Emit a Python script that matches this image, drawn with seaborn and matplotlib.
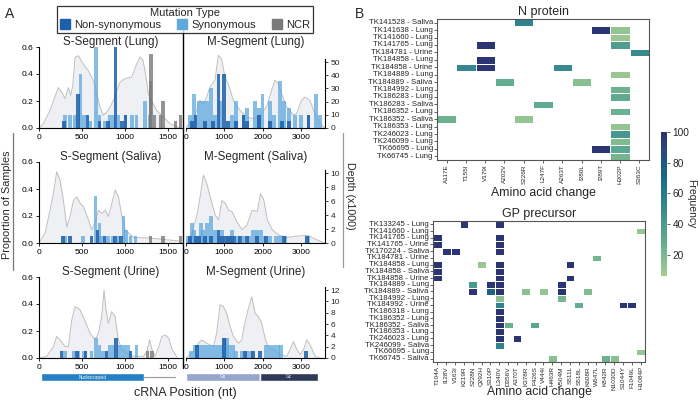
import numpy as np
import pandas as pd
import seaborn as sns
import matplotlib.pyplot as plt
from matplotlib.patches import Patch
from matplotlib.lines import Line2D

# ---------------- Panel A data ----------------
# read depth coverage (x1000) per segment / tissue
s_lung_cov_x = [0, 50, 128, 224, 263, 302, 340, 367, 391, 418, 456, 514, 572, 611, 650, 708, 746, 804, 863,
                940, 998, 1075, 1133, 1172, 1203, 1230, 1269, 1307, 1365, 1443, 1520, 1636]
s_lung_cov_y = [0, 3.3, 13.4, 30.6, 27.3, 22.2, 30.6, 24.7, 32.1, 53.5, 54.8, 48.5, 43.4, 38.4, 32.1, 15.7, 9.6,
                13.4, 21, 34.8, 37.4, 38.6, 48.7, 53.8, 51.8, 43.4, 25.8, 20.7, 13.4, 8.3, 3.3, 0]
m_lung_cov_x = [0, 17, 148, 278, 365, 452, 539, 626, 757, 843, 930, 1017, 1104, 1235, 1409, 1583, 1757, 1930,
                2104, 2235, 2322, 2409, 2496, 2626, 2713, 2800, 2887, 3017, 3104, 3235, 3365, 3496, 3626]
m_lung_cov_y = [0, 0.8, 5.8, 13.4, 21, 18.4, 23.5, 31.1, 36.1, 55.1, 52.5, 38.6, 33.6, 21, 13.4, 8.3, 7.1, 9.6,
                15.9, 28.5, 36.1, 33.6, 26, 15.9, 13.4, 9.6, 10.9, 21, 23.5, 21, 10.9, 3.3, 0]
s_sal_cov_x = [0, 70, 128, 167, 205, 244, 283, 322, 360, 400, 438, 477, 515, 574, 612, 651, 690, 729, 767, 806,
               845, 884, 922, 961, 1000, 1097, 1291, 1446, 1620]
s_sal_cov_y = [0, 1.4, 4.7, 7.1, 10.2, 9, 6.1, 2.3, 3.8, 6.1, 6.6, 5.7, 5.2, 3.3, 1.9, 3, 4.7, 4.2, 4.7, 3.8,
               5.7, 7.6, 6.6, 3.8, 1.9, 0.8, 0.7, 0.5, 0.3]
m_sal_cov_x = [0, 18, 150, 280, 368, 456, 544, 632, 763, 851, 939, 1026, 1114, 1202, 1333, 1465, 1596, 1728,
               1860, 1947, 2035, 2123, 2254, 2430, 2650, 2912, 3175, 3439, 3614]
m_sal_cov_y = [0, 0.2, 1.4, 3.8, 6.6, 9.7, 8.5, 6.6, 4, 3.3, 6.1, 5.7, 4.7, 4.5, 3, 1.9, 2.6, 4.7,
               4.5, 7.1, 6.1, 3.3, 1.9, 1.1, 0.8, 1, 1.1, 0.4, 0]
s_uri_cov_x = [0, 89, 167, 205, 244, 302, 341, 380, 418, 476, 530, 592, 650, 689, 727, 754, 777, 804, 843, 882,
               920, 960, 1019, 1097, 1213, 1252, 1283, 1310, 1349, 1388, 1426, 1465, 1504, 1543, 1600]
s_uri_cov_y = [0, 0.3, 2, 3.8, 3.2, 2, 2, 6.7, 9.1, 8.5, 6.7, 4.4, 3.2, 4.4, 7.3, 12, 8.5, 6.1, 8.2, 7.3,
               3.2, 1.5, 0.9, 0.3, 0.3, 1.2, 3.2, 1.5, 0.3, 2, 3.8, 4.1, 3.5, 1.5, 0.2]
m_uri_cov_x = [0, 105, 235, 322, 410, 540, 715, 802, 889, 976, 1064, 1151, 1238, 1369, 1456, 1543, 1630, 1717,
               1805, 1892, 1979, 2066, 2153, 2284, 2458, 2633, 2807, 2894, 2982, 3069, 3156, 3243, 3374, 3505]
m_uri_cov_y = [0, 0.6, 1.5, 2.6, 3.2, 2.6, 2, 4.4, 9.4, 9.1, 7.9, 5.6, 3.8, 2.6, 3.2, 6.4, 8.8, 10.8,
               7.9, 7.3, 6.1, 3.5, 1.8, 1.5, 0.6, 0.3, 2.9, 1.5, 0.6, 1.5, 3.2, 2.3, 0.3, 0]

# mutation bars: position (nt) and proportion of samples
s_lung_ns_x = [290, 450, 560, 700, 800, 890, 960, 1000]
s_lung_ns_y = [0.05, 0.25, 0.1, 0.05, 0.05, 0.6, 0.05, 0.1]
s_lung_syn_x = [300, 360, 420, 480, 520, 600, 660, 700, 760, 820, 860, 920, 1000, 1080, 1130, 1230, 1280]
s_lung_syn_y = [0.1, 0.1, 0.1, 0.4, 0.1, 0.05, 0.6, 0.1, 0.05, 0.1, 0.1, 0.1, 0.1, 0.1, 0.1, 0.2, 0.1]
s_lung_ncr_x = [1290, 1300, 1340, 1410, 1440, 1580, 1640]
s_lung_ncr_y = [0.35, 0.55, 0.1, 0.1, 0.2, 0.05, 0.1]

m_lung_ns_x = [150, 250, 500, 700, 850, 1000, 1100, 1300, 1500, 1600, 1900, 2200, 2500, 2700, 3200]
m_lung_ns_y = [0.05, 0.1, 0.05, 0.05, 0.4, 0.4, 0.05, 0.05, 0.1, 0.05, 0.1, 0.05, 0.05, 0.05, 0.1]
m_lung_syn_x = [100, 200, 350, 450, 550, 650, 750, 900, 1200, 1300, 1500, 1600, 1800, 1900, 2000, 2200, 2300,
                2450, 2550, 2700, 2850, 3000, 3200, 3400, 3500]
m_lung_syn_y = [0.1, 0.25, 0.2, 0.2, 0.2, 0.3, 0.1, 0.2, 0.1, 0.2, 0.1, 0.15, 0.2, 0.15, 0.25, 0.2, 0.1,
                0.35, 0.2, 0.15, 0.1, 0.1, 0.1, 0.25, 0.1]

s_sal_ns_x = [280, 360, 610, 680, 760, 880, 950]
s_sal_ns_y = [0.05, 0.05, 0.05, 0.1, 0.05, 0.05, 0.05]
s_sal_syn_x = [300, 510, 655, 700, 720, 800, 850, 920, 980, 1010, 1060, 1120]
s_sal_syn_y = [0.05, 0.05, 0.35, 0.15, 0.05, 0.05, 0.05, 0.05, 0.2, 0.1, 0.05, 0.05]
s_sal_ncr_x = [1290, 1440, 1640]
s_sal_ncr_y = [0.05, 0.05, 0.05]

m_sal_ns_x = [100, 250, 350, 500, 650, 850, 950, 1050, 1150, 1250, 1400, 1600, 1850, 2100, 2550, 3150]
m_sal_ns_y = [0.05, 0.05, 0.05, 0.05, 0.05, 0.1, 0.05, 0.05, 0.05, 0.05, 0.05, 0.05, 0.05, 0.05, 0.05, 0.05]
m_sal_syn_x = [50, 150, 200, 300, 400, 450, 550, 650, 750, 850, 950, 1100, 1200, 1350, 1500, 1650, 1750, 1850,
               1950, 2050, 2200, 2350, 2450, 2600, 3200]
m_sal_syn_y = [0.05, 0.15, 0.1, 0.05, 0.15, 0.1, 0.15, 0.2, 0.1, 0.05, 0.1, 0.05, 0.1, 0.05, 0.05, 0.05, 0.1, 0.1,
               0.1, 0.05, 0.05, 0.05, 0.05, 0.05, 0.05]

s_uri_ns_x = [260, 440, 540, 780, 895, 1060]
s_uri_ns_y = [0.05, 0.05, 0.05, 0.05, 0.15, 0.05]
s_uri_syn_x = [300, 400, 460, 520, 610, 660, 700, 740, 820, 860, 920, 960, 1000, 1040, 1130]
s_uri_syn_y = [0.05, 0.05, 0.05, 0.05, 0.05, 0.15, 0.1, 0.05, 0.1, 0.1, 0.1, 0.1, 0.1, 0.1, 0.1]
s_uri_ncr_x = [1260, 1310]
s_uri_ncr_y = [0.05, 0.05]

m_uri_ns_x = [280, 1000, 1540, 1760, 1935, 3140]
m_uri_ns_y = [0.1, 0.15, 0.05, 0.05, 0.05, 0.05]
m_uri_syn_x = [120, 220, 320, 420, 520, 620, 720, 820, 920, 1020, 1080, 1120, 1220, 1310, 1450, 1600, 1700,
               2100, 2200, 2300, 2400, 2480]
m_uri_syn_y = [0.05, 0.1, 0.1, 0.1, 0.1, 0.1, 0.1, 0.1, 0.1, 0.15, 0.15, 0.1, 0.1, 0.05, 0.05, 0.05, 0.05,
               0.1, 0.1, 0.1, 0.1, 0.1]

tissues = ["Lung", "Saliva", "Urine"]
depth_ticks = [[0, 10, 20, 30, 40, 50], [0, 2, 4, 6, 8, 10], [0, 2, 4, 6, 8, 10, 12]]
depth_top = [61.4, 11.6, 14.3]

gene_names = ["Nucleocapsid", "Gn", "Gc"]
gene_start = [23, 0, 1930]
gene_end = [1218, 1930, 3440]

# ---------------- Panel B data ----------------
n_rows = ["TK141528 - Saliva", "TK141638 - Lung", "TK141660 - Lung", "TK141765 - Lung", "TK184781 - Urine",
          "TK184858 - Lung", "TK184858 - Urine", "TK184889 - Lung", "TK184889 - Saliva", "TK184992 - Lung",
          "TK186283 - Lung", "TK186283 - Saliva", "TK186352 - Lung", "TK186352 - Saliva", "TK186353 - Lung",
          "TK246023 - Lung", "TK246099 - Lung", "TK66695 - Lung", "TK66745 - Lung"]
n_cols = ["A117E", "T155I", "V179I", "A202V", "S226R", "L247F", "A263T", "I280L", "I289T", "H302P", "S363C"]
n_cells = [(0, "S226R", 55), (1, "I289T", 98), (1, "H302P", 12), (2, "H302P", 10), (3, "V179I", 98),
           (3, "H302P", 38), (4, "S363C", 50), (5, "V179I", 98), (6, "T155I", 52), (6, "V179I", 98),
           (6, "A263T", 50), (7, "H302P", 10), (8, "A202V", 28), (8, "I280L", 15), (9, "H302P", 25),
           (10, "H302P", 30), (11, "L247F", 30), (12, "H302P", 25), (13, "A117E", 25), (13, "S226R", 12),
           (14, "H302P", 12), (15, "H302P", 42), (16, "H302P", 18), (17, "I289T", 98), (17, "H302P", 32),
           (18, "H302P", 22)]

gp_rows = ["TK133245 - Lung", "TK141660 - Lung", "TK141765 - Lung", "TK141765 - Urine", "TK170224 - Saliva",
           "TK184781 - Urine", "TK184858 - Lung", "TK184858 - Saliva", "TK184858 - Urine", "TK184889 - Lung",
           "TK184889 - Saliva", "TK184992 - Lung", "TK184992 - Urine", "TK186318 - Lung", "TK186352 - Lung",
           "TK186352 - Saliva", "TK186353 - Lung", "TK246023 - Lung", "TK246099 - Saliva", "TK66695 - Lung",
           "TK66745 - Saliva"]
gp_cols = ["T104A", "I128V", "V163I", "K219R", "S228N", "Q292H", "S310P", "L340V", "D356V", "A370T", "K378R",
           "F426S", "V444I", "H463R", "V504M", "S511L", "S518L", "K608R", "W647L", "K842R", "N1030D", "S1044Y",
           "F1049L", "H1084P"]
gp_cells = [(0, "K219R", 98), (0, "L340V", 98), (1, "H1084P", 12), (2, "T104A", 98), (2, "L340V", 98),
            (3, "T104A", 98), (3, "L340V", 98), (4, "I128V", 98), (4, "V163I", 98), (4, "L340V", 98),
            (5, "W647L", 22), (6, "T104A", 98), (6, "Q292H", 10), (6, "L340V", 98), (6, "S511L", 98),
            (7, "T104A", 98), (7, "L340V", 98), (8, "T104A", 98), (8, "L340V", 98), (8, "S511L", 98),
            (9, "S228N", 40), (9, "S310P", 98), (9, "L340V", 98), (9, "V504M", 98),
            (10, "S228N", 98), (10, "S310P", 75), (10, "L340V", 98), (10, "K378R", 15), (10, "V444I", 12),
            (10, "V504M", 98), (10, "K608R", 18), (11, "L340V", 15), (11, "V504M", 22),
            (12, "L340V", 55), (12, "S518L", 28), (12, "S1044Y", 98), (12, "F1049L", 98),
            (13, "L340V", 98), (14, "L340V", 98), (15, "L340V", 98), (15, "D356V", 25), (15, "F426S", 32),
            (16, "L340V", 98), (17, "L340V", 98), (17, "A370T", 98), (18, "L340V", 55), (19, "H1084P", 12),
            (20, "H463R", 15), (20, "K842R", 25), (20, "N1030D", 15)]

# ---------------- style ----------------
sns.set_theme(style="ticks")
plt.rcParams["font.family"] = ["Liberation Sans", "DejaVu Sans"]
plt.rcParams["axes.linewidth"] = 0.8

C_NS = "#1c5fab"
C_SYN = "#5fa8de"
C_NCR = "#7a7a7a"

W, H = 700, 401
fig = plt.figure(figsize=(7, 4.01), dpi=100)


def frac(x0, y_top, x1, y_bot):
    return [x0 / W, 1 - y_bot / H, (x1 - x0) / W, (y_bot - y_top) / H]


panels = {
    ("S", 0): (s_lung_cov_x, s_lung_cov_y, s_lung_ns_x, s_lung_ns_y, s_lung_syn_x, s_lung_syn_y, s_lung_ncr_x, s_lung_ncr_y),
    ("M", 0): (m_lung_cov_x, m_lung_cov_y, m_lung_ns_x, m_lung_ns_y, m_lung_syn_x, m_lung_syn_y, [], []),
    ("S", 1): (s_sal_cov_x, s_sal_cov_y, s_sal_ns_x, s_sal_ns_y, s_sal_syn_x, s_sal_syn_y, s_sal_ncr_x, s_sal_ncr_y),
    ("M", 1): (m_sal_cov_x, m_sal_cov_y, m_sal_ns_x, m_sal_ns_y, m_sal_syn_x, m_sal_syn_y, [], []),
    ("S", 2): (s_uri_cov_x, s_uri_cov_y, s_uri_ns_x, s_uri_ns_y, s_uri_syn_x, s_uri_syn_y, s_uri_ncr_x, s_uri_ncr_y),
    ("M", 2): (m_uri_cov_x, m_uri_cov_y, m_uri_ns_x, m_uri_ns_y, m_uri_syn_x, m_uri_syn_y, [], []),
}

row_tops = [47, 162, 277]
row_bots = [128, 243, 358]
seg_x = {"S": (39, 183, 1670, 40), "M": (186, 325, 3630, 100)}

for (seg, r), (cx, cy, nx, ny, sx, sy, gx, gy) in panels.items():
    x0, x1, xmax, bw = seg_x[seg]
    ax = fig.add_axes(frac(x0, row_tops[r], x1, row_bots[r]))
    axd = ax.twinx()
    axd.fill_between(cx, cy, color="#eef0f4", lw=0, zorder=0)
    sns.lineplot(x=cx, y=cy, ax=axd, color="#bfbfbf", lw=0.7, sort=False)
    axd.set_ylim(0, depth_top[r])
    ax.set_zorder(axd.get_zorder() + 1)
    ax.patch.set_visible(False)

    ax.bar(sx, sy, width=bw, color=C_SYN, alpha=0.75, lw=0)
    ax.bar(nx, ny, width=bw, color=C_NS, alpha=0.85, lw=0)
    if gx:
        ax.bar(gx, gy, width=bw, color=C_NCR, alpha=0.8, lw=0)

    ax.set_xlim(0, xmax)
    ax.set_ylim(0, 0.6)
    ax.tick_params(labelsize=6, length=2.5, width=0.6, pad=1.5, colors="black")
    axd.tick_params(labelsize=6, length=2.5, width=0.6, pad=1.5)
    ax.set_xticks([0, 500, 1000, 1500] if seg == "S" else [0, 1000, 2000, 3000])
    ax.text(0.5, 1.06, f"{seg}-Segment ({tissues[r]})", transform=ax.transAxes,
            ha="center", va="center", fontsize=8.4)
    for side in ["top", "right"]:
        ax.spines[side].set_visible(False)
    for side in ["top", "left", "bottom"]:
        axd.spines[side].set_visible(False)
    if seg == "S":
        ax.set_yticks([0, 0.2, 0.4, 0.6])
        ax.set_yticklabels(["0.0", "0.2", "0.4", "0.6"])
        axd.spines["right"].set_visible(False)
        axd.set_yticks([])
    else:
        ax.spines["left"].set_visible(False)
        ax.set_yticks([])
        axd.set_yticks(depth_ticks[r])
        axd.spines["right"].set_bounds(0, depth_ticks[r][-1] * 1.05)
        axd.spines["right"].set_color("black")
    axd.set_ylabel("")
    for sp in ax.spines.values():
        sp.set_color("black")

# gene annotation bars
ax_gs = fig.add_axes(frac(39, 371, 183, 383))
ax_gs.set_xlim(0, 1670)
ax_gs.set_ylim(-1, 1)
ax_gs.plot([gene_end[0], 1578], [0, 0], color="#9a9a9a", lw=0.8)
ax_gs.barh(0, gene_end[0] - gene_start[0], left=gene_start[0], height=1.35, color="#2581c4")
ax_gs.text((gene_start[0] + gene_end[0]) / 2, 0, gene_names[0], color="white", fontsize=3.3,
           ha="center", va="center")
ax_gs.axis("off")

ax_gm = fig.add_axes(frac(186, 371, 325, 383))
ax_gm.set_xlim(0, 3630)
ax_gm.set_ylim(-1, 1)
for name, st, en, col in zip(gene_names[1:], gene_start[1:], gene_end[1:], ["#97a4cb", "#2e3a57"]):
    ax_gm.barh(0, en - st, left=st, height=1.35, color=col)
    ax_gm.text((st + en) / 2, 0, name, color="white", fontsize=3.3, ha="center", va="center")
ax_gm.axis("off")

# shared labels / decorations for panel A
fig.text(185 / W, 1 - 393 / H, "cRNA Position (nt)", ha="center", va="center", fontsize=9)
fig.text(7 / W, 1 - 205 / H, "Proportion of Samples", rotation=90, ha="center", va="center", fontsize=7.8)
fig.text(350 / W, 1 - 196 / H, "Depth (x1000)", rotation=270, ha="center", va="center", fontsize=7.7)
fig.add_artist(Line2D([183 / W, 183 / W], [1 - 25 / H, 1 - 368 / H], color="black", lw=1))
fig.add_artist(Line2D([12.5 / W, 12.5 / W], [1 - 133 / H, 1 - 270 / H], color="#777777", lw=0.9))
fig.add_artist(Line2D([343 / W, 343 / W], [1 - 133 / H, 1 - 267 / H], color="#999999", lw=0.9))
fig.text(5 / W, 1 - 14 / H, "A", fontsize=10, va="center", ha="left")
fig.text(355 / W, 1 - 14 / H, "B", fontsize=10, va="center", ha="left")

handles = [Patch(color=C_NS), Patch(color=C_SYN), Patch(color=C_NCR)]
leg = fig.legend(handles, ["Non-synonymous", "Synonymous", "NCR"], title="Mutation Type", ncol=3,
                 loc="upper center", bbox_to_anchor=(185 / W, 1.0), fontsize=8, title_fontsize=8,
                 frameon=True, fancybox=False, edgecolor="black", handlelength=0.9, handleheight=0.9,
                 handletextpad=0.4, columnspacing=1.4, borderpad=0.25, labelspacing=0.1)
leg.get_frame().set_linewidth(0.9)

# ---------------- Panel B heatmaps ----------------
cmap = sns.color_palette("crest", as_cmap=True)

n_df = pd.DataFrame(np.nan, index=n_rows, columns=n_cols)
for i, c, v in n_cells:
    n_df.loc[n_rows[i], c] = v
gp_df = pd.DataFrame(np.nan, index=gp_rows, columns=gp_cols)
for i, c, v in gp_cells:
    gp_df.loc[gp_rows[i], c] = v

ax_n = fig.add_axes(frac(437, 19, 649, 160))
ax_gp = fig.add_axes(frac(433, 221, 645, 362))
cax = fig.add_axes(frac(661, 132, 667, 276))

sns.heatmap(n_df, ax=ax_n, cmap=cmap, vmin=6, vmax=100, cbar_ax=cax, linewidths=0.6, linecolor="white",
            xticklabels=True, yticklabels=True)
sns.heatmap(gp_df, ax=ax_gp, cmap=cmap, vmin=6, vmax=100, cbar=False, linewidths=0.6, linecolor="white",
            xticklabels=True, yticklabels=True)

for ax, title, lab_y in [(ax_n, "N protein", -0.235), (ax_gp, "GP precursor", -0.215)]:
    ax.set_title(title, fontsize=9, pad=3)
    ax.set_xlabel("Amino acid change", fontsize=8.8, va="center")
    ax.xaxis.set_label_coords(0.5, lab_y)
    ax.set_ylabel("")
    ax.tick_params(axis="y", labelsize=5.6, length=2, width=0.5, pad=1)
    ax.tick_params(axis="x", labelsize=4.6, length=2, width=0.5, pad=1)
    ax.set_xticklabels(ax.get_xticklabels(), rotation=90)
    ax.set_yticklabels(ax.get_yticklabels(), rotation=0)
    for sp in ax.spines.values():
        sp.set_visible(True)
        sp.set_color("#555555")
        sp.set_linewidth(0.8)

cbar = ax_n.collections[0].colorbar
cbar.outline.set_visible(False)
cbar.set_ticks([20, 40, 60, 80, 100])
cbar.ax.tick_params(labelsize=7.3, length=2, width=0.5, pad=2)
cbar.set_label("Frequency", rotation=270, fontsize=7.5, labelpad=5)

fig.savefig("out.png", dpi=100)
